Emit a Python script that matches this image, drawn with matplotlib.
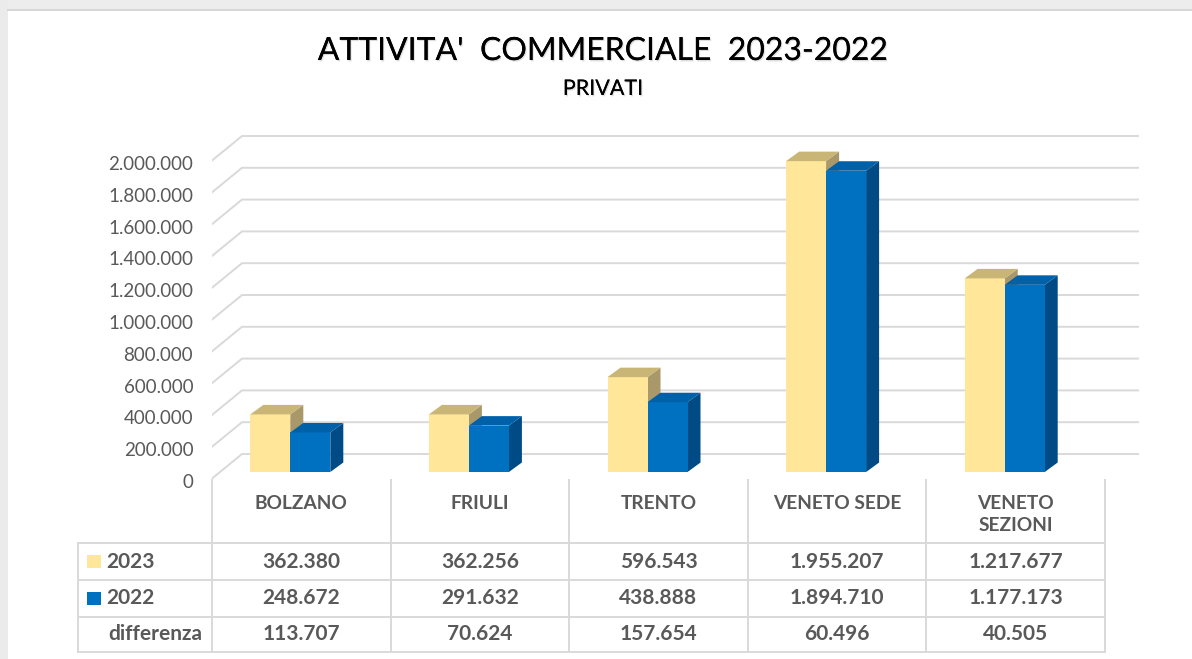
import numpy as np
import matplotlib.pyplot as plt
from matplotlib.patches import Polygon, Rectangle
import matplotlib.patheffects as pe

plt.rcParams['font.family'] = ['Lato', 'DejaVu Sans']

# data
regions = ['BOLZANO', 'FRIULI', 'TRENTO', 'VENETO SEDE', 'VENETO\nSEZIONI']
years = ['2023', '2022']
values_2023 = [362380, 362256, 596543, 1955207, 1217677]
values_2022 = [248672, 291632, 438888, 1894710, 1177173]
differenza = [113707, 70624, 157654, 60496, 40505]
y_ticks = np.arange(0, 2000001, 200000)

# colours: front, top, side
yellow = ('#FFE699', '#C9B677', '#A99869')
blue = ('#0070C0', '#0060A8', '#004A86')
grid_col = '#D9D9D9'
text_col = '#595959'

W, H, DPI = 1192, 659, 100

# plot area in pixels (front plane, y=0 at AX_B)
AX_L, AX_R, AX_B, AX_T = 212, 1145, 481, 128
CAT_PX = (1105 - 212) / len(regions)
PX_PER_VAL = 159 / 1e6


def dx(px):
    return px / CAT_PX


def dy(px):
    return px / PX_PER_VAL


def fmt(v):
    return f'{v:,}'.replace(',', '.')


fig = plt.figure(figsize=(W / DPI, H / DPI), dpi=DPI)
fig.patch.set_facecolor('white')

ax = fig.add_axes([AX_L / W, 1 - AX_B / H, (AX_R - AX_L) / W, (AX_B - AX_T) / H])
ax.set_xlim(-0.5, -0.5 + dx(AX_R - AX_L))
ax.set_ylim(0, dy(AX_B - AX_T))
for s in ax.spines.values():
    s.set_visible(False)
ax.set_xticks([])
ax.set_yticks(y_ticks)
ax.set_yticklabels(['0' if v == 0 else fmt(v) for v in y_ticks], fontsize=13.5, color=text_col)
ax.tick_params(axis='y', length=0, pad=13.5)

# back wall grid: short diagonal on the floor edge, then across the wall
wall_x0 = -0.5 + dx(30)
wall_x1 = -0.5 + dx(1139 - AX_L)
for v in y_ticks:
    ax.plot([-0.5 - dx(3), wall_x0, wall_x1], [v, v + dy(27), v + dy(27)],
            color=grid_col, lw=1.4, solid_capstyle='butt', zorder=1)

# pseudo-3D columns
bar_w = dx(40)
base = dy(9)
depth_x, depth_y = dx(13), dy(9.5)
x = np.arange(len(regions))
for vals, off, cols in [(values_2023, -31, yellow), (values_2022, 9, blue)]:
    xc = x + dx(off)
    ax.bar(xc, vals, width=bar_w, bottom=base, color=cols[0], zorder=3, linewidth=0)
    for xi, v in zip(xc, vals):
        x0, x1, top = xi - bar_w / 2, xi + bar_w / 2, base + v
        ax.add_patch(Polygon([(x0, top), (x1, top), (x1 + depth_x, top + depth_y),
                              (x0 + depth_x, top + depth_y)],
                             closed=True, facecolor=cols[1], lw=0, zorder=3))
        ax.add_patch(Polygon([(x1, base), (x1, top), (x1 + depth_x, top + depth_y),
                              (x1 + depth_x, base + depth_y)],
                             closed=True, facecolor=cols[2], lw=0, zorder=2.9))

# overlay in pixel coordinates for frame, titles and data table
ov = fig.add_axes([0, 0, 1, 1], zorder=-1)
ov.set_xlim(0, W)
ov.set_ylim(H, 0)
ov.axis('off')
ov.add_patch(Rectangle((0, 0), W, 9, facecolor='#EDEDED', lw=0))
ov.add_patch(Rectangle((0, 0), 8, H, facecolor='#EBEBEB', lw=0))
ov.plot([8, W], [9.5, 9.5], color='#CFCFCF', lw=1.2)

tab = fig.add_axes([0, 0, 1, 1])
tab.set_xlim(0, W)
tab.set_ylim(H, 0)
tab.axis('off')
tab.patch.set_alpha(0)

shadow = [pe.withSimplePatchShadow(offset=(0.8, -1.0), shadow_rgbFace='#A0A0A0', alpha=0.35), pe.Normal()]
tab.text(603, 51, "ATTIVITA'  COMMERCIALE  2023-2022", fontsize=23, fontweight='normal',
         ha='center', va='center', color='black', path_effects=shadow)
tab.text(603, 89, 'PRIVATI', fontsize=15.5, fontweight='normal', ha='center', va='center',
         color='black', path_effects=shadow)

col_edges = [AX_L + k * CAT_PX for k in range(len(regions) + 1)]
row_edges = [543, 580, 617, 652]
tab_left = 78
for xe in col_edges:
    tab.plot([xe, xe], [480, row_edges[-1]], color=grid_col, lw=1.4)
tab.plot([tab_left, tab_left], [row_edges[0], row_edges[-1]], color=grid_col, lw=1.4)
for ye in row_edges:
    tab.plot([tab_left, col_edges[-1]], [ye, ye], color=grid_col, lw=1.4)

for k, name in enumerate(regions):
    xc = (col_edges[k] + col_edges[k + 1]) / 2
    tab.text(xc, 495, name, ha='center', va='top', fontsize=13.8, fontweight='bold',
             color=text_col, linespacing=1.35)

rows = [values_2023, values_2022, differenza]
row_names = years + ['differenza']
keys = [yellow[0], blue[0], None]
for r, (vals, name, key) in enumerate(zip(rows, row_names, keys)):
    yc = (row_edges[r] + row_edges[r + 1]) / 2
    if key is not None:
        tab.add_patch(Rectangle((87, yc - 6.5), 14, 13, facecolor=key, lw=0))
    tab.text(106 if key else 108, yc, name, ha='left', va='center', fontsize=15,
             fontweight='bold', color=text_col)
    for k, v in enumerate(vals):
        xc = (col_edges[k] + col_edges[k + 1]) / 2
        tab.text(xc, yc, fmt(v), ha='center', va='center', fontsize=15,
                 fontweight='bold', color=text_col)

fig.savefig('out.png', dpi=DPI)
